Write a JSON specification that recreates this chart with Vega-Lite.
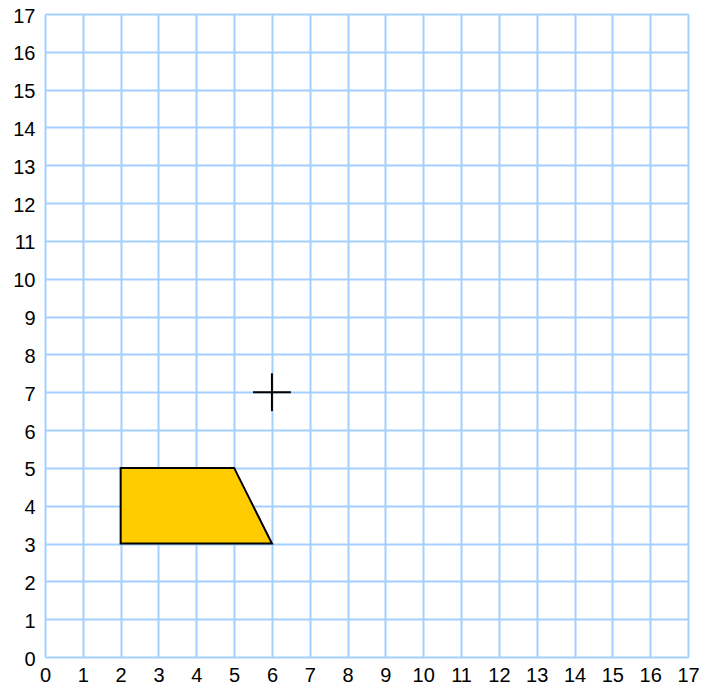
{
  "$schema": "https://vega.github.io/schema/vega-lite/v6.json",
  "autosize": "none",
  "width": 643,
  "height": 643,
  "padding": {"left": 45, "top": 14, "right": 14, "bottom": 37},
  "background": "white",
  "config": {
    "view": {"stroke": null},
    "axis": {
      "grid": true,
      "gridColor": "#a3d0ff",
      "gridWidth": 2,
      "gridOpacity": 1,
      "domain": false,
      "ticks": false,
      "labelFont": "Liberation Sans",
      "labelFontSize": 20,
      "labelColor": "black",
      "title": null,
      "values": [0,1,2,3,4,5,6,7,8,9,10,11,12,13,14,15,16,17]
    }
  },
  "layer": [
    {
      "data": {"values": [
        {"x": 2, "y": 5, "y2": 3},
        {"x": 5, "y": 5, "y2": 3},
        {"x": 6, "y": 3, "y2": 3}
      ]},
      "mark": {"type": "area", "fill": "#ffcc00", "stroke": "black", "strokeWidth": 2, "fillOpacity": 1},
      "encoding": {
        "x": {"field": "x", "type": "quantitative", "scale": {"domain": [0, 17], "nice": false}, "axis": {"labelPadding": 8, "labelFlush": false, "labelOverlap": false}},
        "y": {"field": "y", "type": "quantitative", "scale": {"domain": [0, 17], "nice": false}, "axis": {"labelPadding": 10, "labelOffset": 2, "labelFlush": false, "labelOverlap": false}},
        "y2": {"field": "y2"}
      }
    },
    {
      "data": {"values": [
        {"x": 5.5, "x2": 6.5, "y": 7, "y2": 7},
        {"x": 6, "x2": 6, "y": 6.5, "y2": 7.5}
      ]},
      "mark": {"type": "rule", "color": "black", "strokeWidth": 2},
      "encoding": {
        "x": {"field": "x", "type": "quantitative"},
        "x2": {"field": "x2"},
        "y": {"field": "y", "type": "quantitative"},
        "y2": {"field": "y2"}
      }
    }
  ]
}
